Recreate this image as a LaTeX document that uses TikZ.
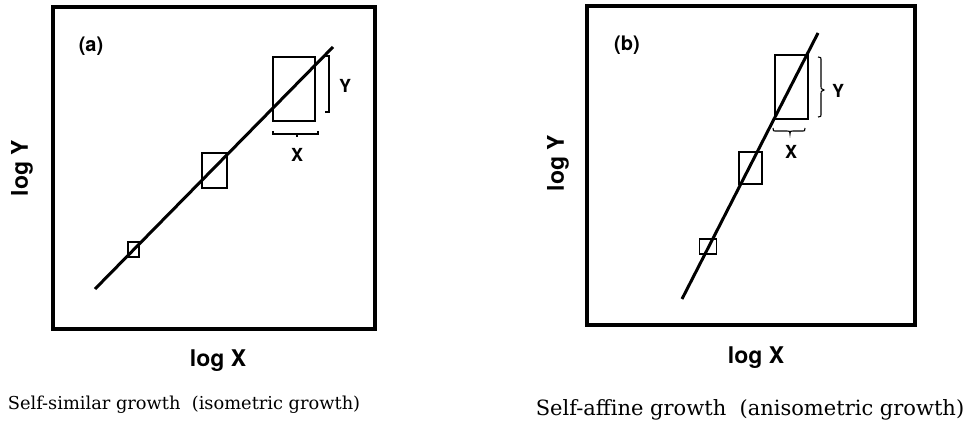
\documentclass[tikz,border=0pt]{standalone}
\usepackage{fontspec}
\newfontfamily\labfont{TeX Gyre Heros}
\newfontfamily\capfont{DejaVu Serif}
\begin{document}
\begin{tikzpicture}[x=1pt,y=-1pt,
  frame/.style={draw,line width=3.2pt},
  curve/.style={draw,line width=3pt},
  rbox/.style={draw,line width=1.7pt,inner sep=0pt,rectangle},
  brace/.style={draw,line width=1.1pt},
  axlab/.style={font=\labfont\bfseries\fontsize{23}{26}\selectfont,inner sep=0pt},
  dimlab/.style={font=\labfont\bfseries\fontsize{18}{21}\selectfont,inner sep=0pt},
  panlab/.style={font=\labfont\bfseries\fontsize{20}{23}\selectfont,inner sep=0pt},
  caplab/.style={font=\capfont\fontsize{17.8}{20}\selectfont,inner sep=0pt},
  caplabb/.style={font=\capfont\fontsize{21}{24}\selectfont,inner sep=0pt}]
\useasboundingbox (0,0) rectangle (976,422);
% ---------- panel (a)
\draw[frame] (53,7) rectangle (375,329);
\coordinate (a0) at (95,289);
\coordinate (a1) at (333,47);
\node[rbox,minimum width=11pt,minimum height=15pt] (as) at (133.5,249.5) {};
\node[rbox,minimum width=25pt,minimum height=35pt] (am) at (214.5,170.5) {};
\node[rbox,minimum width=42pt,minimum height=64pt] (ab) at (294,89) {};
\draw[curve] (a0) -- (a1);
\draw[brace] (325,56) -- (329,56) -- (329,112) -- (325,112);
\draw[brace] (273,131) -- (273,134) -- (318,134) -- (318,131);
\draw[brace] (297,134) -- (297,137);
\node[dimlab] (aY) at (345,86) {Y};
\node[dimlab] (aX) at (297,155) {X};
\node[panlab] (alab) at (91,46) {(a)};
\node[axlab,rotate=90] (aly) at (22,168) {log Y};
\node[axlab] (alx) at (218,361) {log X};
\node[caplab] (acap) at (184,405) {Self-similar growth\ \ (isometric growth)};
% ---------- panel (b)
\draw[frame] (587,6) rectangle (915,325);
\coordinate (b0) at (682,299);
\coordinate (b1) at (818,33);
\node[rbox,minimum width=17pt,minimum height=15pt] (bs) at (708,246.5) {};
\node[rbox,minimum width=23pt,minimum height=32pt] (bm) at (750.5,168) {};
\node[rbox,minimum width=33pt,minimum height=64pt] (bb) at (791.5,87) {};
\draw[curve] (b0) -- (b1);
\draw[brace] (818,57) .. controls (821,57) .. (821,62) -- (821,85) .. controls (821,89) .. (824,90)
  .. controls (821,91) .. (821,95) -- (821,112) .. controls (821,117) .. (818,117);
\draw[brace] (773,128) .. controls (773,131) .. (777,131) -- (787,131) .. controls (790,131) .. (790,134)
  .. controls (790,131) .. (793,131) -- (801,131) .. controls (805,131) .. (805,128);
\node[dimlab] (bY) at (838,91) {Y};
\node[dimlab] (bX) at (791,152) {X};
\node[panlab] (blab) at (627,45) {(b)};
\node[axlab,rotate=90] (bly) at (558,163) {log Y};
\node[axlab] (blx) at (756,358) {log X};
\node[caplabb] (bcap) at (750,410) {Self-affine growth\ \ (anisometric growth)};
\end{tikzpicture}
\end{document}
